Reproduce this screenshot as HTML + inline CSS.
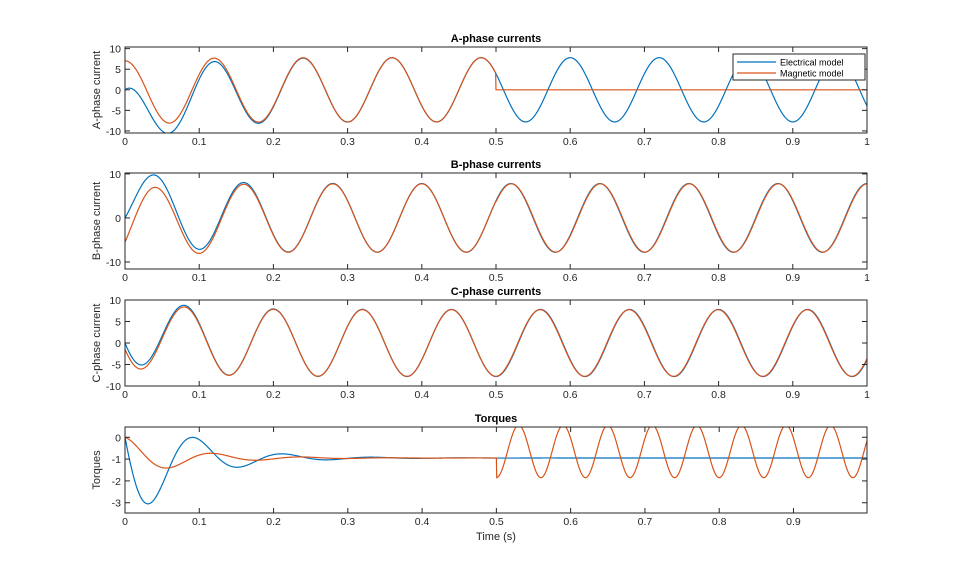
<!DOCTYPE html>
<html><head><meta charset="utf-8">
<style>
body{margin:0;background:#fff;}
svg{display:block;font-family:"Liberation Sans",sans-serif;}
</style></head><body>
<svg id="s" width="959" height="577" viewBox="0 0 959 577"></svg>
<script>
const S=document.getElementById('s');
const X0=125,X1=867;
const W=2*Math.PI/0.12;
let h='<rect width="959" height="577" fill="#fff"/>';
function lin(t,ax){return ax.top+(ax.ymax-t)/(ax.ymax-ax.ymin)*(ax.bot-ax.top);}
function path(f,ax,col,id){
  let d='';
  for(let i=0;i<=2000;i++){const t=i/2000*ax.xmax;const x=X0+(X1-X0)*t/ax.xmax;const y=lin(f(t),ax);d+=(i?'L':'M')+x.toFixed(2)+' '+y.toFixed(2);}
  return `<path d="${d}" fill="none" stroke="${col}" stroke-width="1.2" clip-path="url(#c${id})"/>`;
}
const B='#0072BD',O='#D95319';
const axes=[
 {title:'A-phase currents',yl:'A-phase current',top:47,bot:133,ymin:-10.5,ymax:10.4,ticks:[10,5,0,-5,-10],xmax:1,
  f1:t=>7.8*Math.cos(W*t)-7.8*Math.exp(-t/0.057),
  f2:t=>t>=0.5?0:7.8*Math.cos(W*t)-0.8*Math.exp(-t/0.06)},
 {title:'B-phase currents',yl:'B-phase current',top:173,bot:269,ymin:-11.6,ymax:10.2,ticks:[10,0,-10],xmax:1,
  f1:t=>7.8*Math.cos(W*t-2*Math.PI/3)+3.9*Math.exp(-t/0.057),
  f2:t=>7.75*Math.cos(W*t-2*Math.PI/3-(t>0.5?0.03:0))-1.6*Math.exp(-t/0.06)},
 {title:'C-phase currents',yl:'C-phase current',top:300,bot:386,ymin:-10,ymax:10,ticks:[10,5,0,-5,-10],xmax:1,
  f1:t=>7.8*Math.cos(W*t+2*Math.PI/3)+3.9*Math.exp(-t/0.057),
  f2:t=>7.75*Math.cos(W*t+2*Math.PI/3+(t>0.5?0.03:0))+2.4*Math.exp(-t/0.06)},
 {title:'Torques',yl:'Torques',top:427,bot:513,ymin:-3.47,ymax:0.47,ticks:[0,-1,-2,-3],xmax:0.999,
  f1:t=>-0.95+Math.exp(-t/0.075)*(0.95*Math.cos(W*t)-3.13*Math.sin(W*t)),
  f2:t=>t>=0.5?-0.65-1.2*Math.cos(2*Math.PI*(t-0.5)/0.06):-0.95+0.95*Math.exp(-t/0.08)*Math.cos(W*t)}
];
h+='<defs>';axes.forEach((a,i)=>{h+=`<clipPath id="c${i}"><rect x="${X0}" y="${a.top}" width="${X1-X0}" height="${a.bot-a.top}"/></clipPath>`;});h+='</defs>';
axes.forEach((a,i)=>{
  h+=path(a.f1,a,B,i)+path(a.f2,a,O,i);
  h+=`<rect x="${X0}" y="${a.top}" width="${X1-X0}" height="${a.bot-a.top}" fill="none" stroke="#262626" stroke-width="1"/>`;
  for(let k=0;k<=10;k++){const t=k/10;if(t>a.xmax)break;const x=X0+(X1-X0)*t/a.xmax;
    h+=`<line x1="${x}" y1="${a.bot}" x2="${x}" y2="${a.bot-5}" stroke="#262626"/><line x1="${x}" y1="${a.top}" x2="${x}" y2="${a.top+5}" stroke="#262626"/>`;
    h+=`<text x="${x}" y="${a.bot+12}" font-size="10.5" text-anchor="middle" fill="#262626">${k==0?'0':k==10?'1':(t.toFixed(1))}</text>`;}
  a.ticks.forEach(v=>{const y=lin(v,a);
    h+=`<line x1="${X0}" y1="${y}" x2="${X0+5}" y2="${y}" stroke="#262626"/><line x1="${X1}" y1="${y}" x2="${X1-5}" y2="${y}" stroke="#262626"/>`;
    h+=`<text x="${X0-4}" y="${y+4}" font-size="10.5" text-anchor="end" fill="#262626">${v}</text>`;});
  h+=`<text x="496" y="${a.top-5}" font-size="11" font-weight="bold" text-anchor="middle" fill="#000">${a.title}</text>`;
  const cy=(a.top+a.bot)/2;
  h+=`<text transform="translate(100,${cy}) rotate(-90)" font-size="11" text-anchor="middle" fill="#262626">${a.yl}</text>`;
});
h+=`<text x="496" y="540" font-size="11" text-anchor="middle" fill="#262626">Time (s)</text>`;
h+=`<rect x="733" y="54" width="132" height="26" fill="#fff" stroke="#262626"/>`;
h+=`<line x1="737" y1="62" x2="776" y2="62" stroke="${B}" stroke-width="1.2"/><line x1="737" y1="73" x2="776" y2="73" stroke="${O}" stroke-width="1.2"/>`;
h+=`<text x="780" y="65.5" font-size="9" fill="#000">Electrical model</text><text x="780" y="76.5" font-size="9" fill="#000">Magnetic model</text>`;
S.innerHTML=h;
</script>
</body></html>
